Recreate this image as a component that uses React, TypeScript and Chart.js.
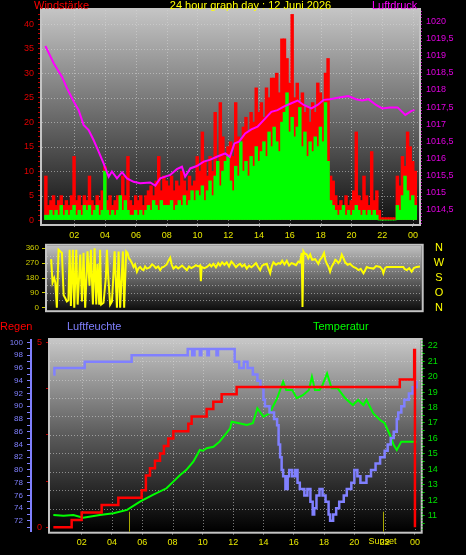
import React, { useEffect, useRef } from "react";
import { Chart, registerables } from "chart.js";

Chart.register(...registerables);

const FONT = '"Liberation Sans", Arial, Helvetica, sans-serif';
const GRID = "rgba(215,215,215,0.55)";
const FRAME = "#c4c4c4";

// ---------- shared time axis ----------
const hourTicks = [2, 4, 6, 8, 10, 12, 14, 16, 18, 20, 22, 24];
const hourLabels = ["02", "04", "06", "08", "10", "12", "14", "16", "18", "20", "22", "00"];

// ---------- panel 1: wind (10-minute slots) and pressure ----------
const windSlotStart = 0.15;
const windSlotHours = 1 / 6;
const windGust = [
  9, 3, 4, 5, 3, 4, 5, 3, 4, 3, 5, 13,
  4, 5, 3, 5, 4, 9, 4, 3, 5, 4, 6, 11,
  4, 5, 3, 4, 5, 5, 9, 5, 13, 4, 3, 5,
  4, 5, 3, 5, 6, 7, 5, 8, 13, 6, 9, 8,
  7, 9, 6, 8, 7, 10, 8, 6, 9, 7, 8, 13,
  10, 18, 12, 9, 13, 10, 22, 12, 24, 17, 13, 15,
  16, 13, 24, 17, 14, 19, 21, 18, 22, 20, 27, 22,
  24, 21, 27, 25, 29, 29, 30, 26, 37, 37, 33, 28,
  42, 25, 28, 24, 26, 22, 23, 20, 24, 22, 28, 26,
  24, 30, 33, 9, 8, 5, 3, 4, 2, 5, 3, 4,
  6, 18, 5, 4, 9, 5, 3, 14, 4, 6, 2, 0.5,
  0.5, 0.5, 0.5, 0.5, 0.5, 9, 7, 13, 11, 18, 15, 12, 10,
];
const windSpeed = [
  1, 1, 2, 1, 2, 1, 3, 1, 2, 1, 2, 3,
  1, 2, 1, 3, 2, 3, 1, 2, 3, 1, 2, 10,
  2, 1, 2, 1, 2, 5, 2, 4, 2, 1, 1, 2,
  1, 2, 1, 2, 3, 2, 4, 3, 2, 4, 3, 3,
  3, 4, 2, 3, 4, 3, 5, 3, 4, 6, 4, 6,
  5, 7, 4, 6, 8, 5, 9, 12, 7, 10, 12, 13,
  8, 6, 11, 9, 16, 10, 12, 9, 13, 11, 15, 12,
  14, 16, 13, 18, 15, 19, 16, 14, 20, 22, 26, 18,
  21, 17, 19, 23, 15, 18, 13, 16, 14, 17, 15, 19,
  16, 24, 12, 4, 3, 2, 1, 2, 3, 1, 2, 1,
  2, 3, 2, 1, 2, 1, 2, 1, 2, 1, 0, 0,
  0, 0, 0, 0, 0, 3, 2, 5, 9, 6, 4, 5, 3,
];
const pressureHours = [
  0.12, 0.66, 1.2, 1.52, 1.96, 2.28, 2.6, 2.93, 3.25, 3.58, 3.9, 4.23, 4.44, 4.77, 5.1,
  5.42, 5.85, 6.28, 6.93, 7.26, 7.58, 8.23, 8.66, 8.99, 9.2, 9.53, 9.96, 10.4, 10.8, 11.26,
  11.8, 12.1, 12.4, 12.7, 13.1, 13.5, 13.9, 14.3, 14.8, 15.2, 15.6, 16.1, 16.5, 16.9, 17.4,
  17.8, 18.2, 18.6, 19.2, 19.8, 20.3, 20.7, 21.1, 21.6, 22.0, 22.5, 23.0, 23.5, 23.9, 24.1,
];
const pressureValues = [
  1019.28, 1018.78, 1018.38, 1018.05, 1017.66, 1017.41, 1016.98, 1016.83, 1016.54, 1016.2,
  1015.86, 1015.47, 1015.62, 1015.42, 1015.6, 1015.42, 1015.32, 1015.28, 1015.3, 1015.21,
  1015.42, 1015.52, 1015.69, 1015.76, 1015.47, 1015.71, 1015.78, 1015.91, 1015.96, 1016.05,
  1016.15, 1016.05, 1016.44, 1016.49, 1016.73, 1016.85, 1016.93, 1017.12, 1017.36, 1017.41,
  1017.51, 1017.61, 1017.69, 1017.56, 1017.46, 1017.56, 1017.71, 1017.73, 1017.78, 1017.82,
  1017.73, 1017.69, 1017.73, 1017.56, 1017.46, 1017.49, 1017.49, 1017.27, 1017.39, 1017.41,
];

// ---------- panel 2: wind direction ----------
const dirHours = [
  0.5, 0.59, 0.7, 0.77, 0.87, 0.98, 1.1, 1.2, 1.31, 1.42, 1.52, 1.62, 1.7, 1.78, 1.91, 2.0,
  2.13, 2.22, 2.39, 2.5, 2.6, 2.71, 2.86, 2.99, 3.08, 3.21, 3.32, 3.43, 3.51, 3.62, 3.68, 3.75,
  3.9, 4.05, 4.12, 4.2, 4.33, 4.45, 4.62, 4.77, 4.88, 4.98, 5.16, 5.24, 5.37, 5.46, 5.55, 5.63,
  5.75, 5.85, 5.95, 6.07, 6.18, 6.28, 6.4, 6.5, 6.6, 6.71, 6.9, 7.05, 7.15, 7.3, 7.45, 7.58,
  7.7, 7.8, 8.0, 8.12, 8.23, 8.33, 8.44, 8.6, 8.75, 8.88, 9.0, 9.15, 9.31, 9.45, 9.6, 9.74,
  9.9, 10.05, 10.17, 10.22, 10.27, 10.45, 10.61, 10.8, 10.9, 11.04, 11.2, 11.35, 11.47, 11.6,
  11.75, 11.9, 12.05, 12.2, 12.34, 12.5, 12.65, 12.77, 12.9, 13.05, 13.2, 13.35, 13.5, 13.64,
  13.8, 13.95, 14.07, 14.2, 14.35, 14.5, 14.6, 14.72, 14.82, 14.93, 15.1, 15.25, 15.37, 15.5,
  15.65, 15.8, 15.95, 16.1, 16.23, 16.4, 16.55, 16.66, 16.77, 16.82, 16.88, 16.95, 17.1, 17.2,
  17.32, 17.45, 17.64, 17.75, 17.85, 17.95, 18.07, 18.22, 18.3, 18.4, 18.5, 18.61, 18.72, 18.83,
  18.95, 19.04, 19.15, 19.26, 19.37, 19.48, 19.59, 19.75, 19.91, 20.02, 20.13, 20.3, 20.45,
  20.6, 20.78, 20.9, 20.99, 21.2, 21.43, 21.6, 21.86, 22.0, 22.07, 22.18, 22.29, 23.37, 23.45,
  23.59, 23.75, 23.91, 24.05, 24.23, 24.45,
];
const dirValues = [
  294, 152, 180, 152, 0, 351, 341, 332, 76, 57, 38, 45, 351, 10, 351, 0,
  351, 19, 322, 38, 332, 0, 341, 133, 351, 19, 360, 19, 266, 19, 351, 19,
  30, 180, 351, 200, 19, 38, 341, 0, 341, 0, 341, 0, 341, 332, 300, 290,
  270, 247, 262, 218, 240, 247, 232, 228, 250, 237, 244, 262, 256, 240, 250, 228,
  245, 247, 262, 285, 303, 260, 237, 250, 238, 247, 255, 242, 228, 250, 240, 247,
  258, 250, 256, 161, 247, 240, 247, 262, 250, 266, 245, 270, 256, 275,
  260, 275, 250, 280, 266, 245, 260, 266, 250, 262, 237, 255, 245, 256,
  270, 245, 228, 255, 262, 266, 240, 209, 250, 275, 260, 270, 266, 285,
  262, 284, 255, 270, 266, 258, 280, 275, 332, 4, 341, 330, 322, 300,
  322, 290, 294, 280, 266, 290, 303, 332, 290, 266, 250, 218, 250, 266,
  290, 284, 270, 284, 322, 300, 275, 260, 266, 255, 247, 240, 228,
  235, 209, 230, 247, 240, 237, 252, 247, 230, 209, 240, 247, 247, 235,
  228, 240, 218, 240, 247, 250,
];
const dirTicks = [0, 90, 180, 270, 360];
const dirLetters = ["N", "O", "S", "W", "N"];
const dirGrid = [45, 90, 135, 180, 225, 270, 315];

// ---------- panel 3: humidity, temperature, rain ----------
const humHours = [
  0.13, 0.2, 2.2, 5.3, 9.0, 9.3, 9.45, 9.8, 9.9, 10.3, 10.4, 10.9, 11.0, 12.1, 12.4, 12.7,
  12.95, 13.3, 13.6, 13.8, 14.0, 14.1, 14.4, 14.7, 14.9, 15.0, 15.1, 15.2, 15.3, 15.45, 15.6,
  15.7, 15.9, 16.1, 16.25, 16.4, 16.7, 16.9, 17.1, 17.25, 17.35, 17.5, 17.7, 17.9, 18.1, 18.3,
  18.4, 18.6, 18.8, 19.0, 19.3, 19.5, 19.8, 20.0, 20.2, 20.4, 20.8, 21.1, 21.4, 21.7, 22.0,
  22.2, 22.4, 22.6, 22.8, 22.9, 23.1, 23.3, 23.6, 23.85, 24.1,
];
const humValues = [
  95, 96, 97, 98, 99, 98, 99, 98, 99, 98, 99, 98, 99, 97, 96, 97,
  96, 95, 94, 93, 91, 90, 89, 88, 87, 84, 82, 80, 79, 77, 79,
  80, 79, 80, 78, 77, 76, 77, 75, 73, 74, 76, 77, 76, 75, 73,
  72, 73, 74, 75, 76, 77, 78, 80, 79, 78, 79, 80, 81, 82, 83,
  84, 85, 86, 88, 89, 90, 91, 92, 93, 94,
];
const tempHours = [
  0.13, 0.8, 1.45, 2.1, 2.6, 3.2, 4.1, 5.0, 5.85, 6.7, 7.6, 8.05, 8.5, 8.9, 9.37, 9.8, 10.0,
  10.25, 10.7, 11.1, 11.46, 11.8, 11.9, 12.4, 12.9, 13.3, 13.6, 14.0, 14.4, 14.9, 15.3, 15.5,
  15.9, 16.2, 16.6, 17.0, 17.2, 17.4, 17.7, 17.9, 18.2, 18.5, 18.9, 19.4, 19.9, 20.25, 20.6,
  20.8, 21.25, 21.7, 22.0, 22.35, 22.6, 22.8, 23.1, 23.45, 24.1,
];
const tempValues = [
  11.04, 11.0, 11.04, 10.87, 10.95, 11.04, 11.15, 11.37, 11.9, 12.34, 12.77, 13.2, 13.63,
  13.95, 14.49, 15.25, 15.2, 15.36, 15.46, 15.79, 16.22, 16.65, 17.08, 16.98, 16.87, 16.98,
  17.95, 17.4, 17.62, 18.6, 19.67, 19.13, 19.13, 18.6, 18.8, 19.13, 19.99, 19.13, 19.13,
  19.46, 20.2, 19.24, 19.24, 18.6, 18.16, 18.49, 18.16, 18.49, 17.62, 17.19, 16.98, 16.22,
  15.57, 15.25, 15.79, 15.79, 15.79,
];
const rainHours = [
  0.13, 1.34, 2.0, 3.32, 4.42, 5.96, 6.24, 6.51, 6.84, 7.17, 7.43, 7.72, 8.05, 9.04, 9.26,
  10.25, 10.69, 11.24, 12.23, 23.0, 23.95, 24.0,
];
const rainValues = [
  0, 0.2, 0.4, 0.6, 0.8, 1.0, 1.4, 1.6, 1.8, 2.0, 2.2, 2.4, 2.6, 2.8, 3.0,
  3.2, 3.4, 3.6, 3.8, 4.0, 4.8, 0,
];
const rainTicks = [0, 1.25, 2.5, 3.75, 5];
const rainGrid = [0.5, 1, 1.5, 2, 2.5, 3, 3.5, 4, 4.5, 5];
const sunHours = [5.12, 21.91];
const sunLabels = ["", "Sunset"];

// ---------- helpers ----------
function range(a: number, b: number, step: number): number[] {
  const out: number[] = [];
  for (let k = 0; a + k * step <= b + 1e-9; k++) out.push(Math.round((a + k * step) * 1000) / 1000);
  return out;
}
const pts = (xs: number[], ys: number[]) => xs.map((x, i) => ({ x, y: ys[i] }));
const font = (size: number) => ({ family: FONT, size });

function makeDecor(
  id: string,
  stops: [number, string][],
  hAxis: string | null,
  hValues: number[],
  vAxis: string | null,
  vValues: number[],
  extra?: (chart: any) => void
) {
  return {
    id,
    beforeDraw(chart: any) {
      const { ctx, chartArea: a } = chart;
      ctx.save();
      const g = ctx.createLinearGradient(0, a.top, 0, a.bottom);
      stops.forEach(([o, c]) => g.addColorStop(o, c));
      ctx.fillStyle = g;
      ctx.fillRect(a.left, a.top, a.right - a.left, a.bottom - a.top);
      ctx.strokeStyle = GRID;
      ctx.lineWidth = 1;
      ctx.setLineDash([1, 2]);
      if (hAxis) {
        const s = chart.scales[hAxis];
        hValues.forEach((v) => {
          const y = Math.round(s.getPixelForValue(v)) + 0.5;
          ctx.beginPath();
          ctx.moveTo(a.left, y);
          ctx.lineTo(a.right, y);
          ctx.stroke();
        });
      }
      if (vAxis) {
        const s = chart.scales[vAxis];
        vValues.forEach((v) => {
          const x = Math.round(s.getPixelForValue(v)) + 0.5;
          ctx.beginPath();
          ctx.moveTo(x, a.top);
          ctx.lineTo(x, a.bottom);
          ctx.stroke();
        });
      }
      ctx.restore();
    },
    afterDatasetsDraw(chart: any) {
      const { ctx, chartArea: a } = chart;
      ctx.save();
      ctx.strokeStyle = FRAME;
      ctx.lineWidth = 2;
      ctx.strokeRect(a.left - 1, a.top - 1, a.right - a.left + 2, a.bottom - a.top + 2);
      ctx.restore();
      if (extra) extra(chart);
    },
  };
}

function timeAxis(min: number, max: number, height: number, padding: number) {
  return {
    type: "linear",
    position: "bottom",
    min,
    max,
    offset: false,
    afterBuildTicks: (s: any) => {
      s.ticks = hourTicks.map((v) => ({ value: v }));
    },
    afterFit: (s: any) => {
      s.height = height;
    },
    ticks: {
      autoSkip: false,
      maxRotation: 0,
      padding,
      color: "#e8e800",
      font: font(9),
      callback: (_v: any, i: number) => hourLabels[i],
    },
    grid: { offset: false, drawOnChartArea: false, drawTicks: true, tickLength: 3, tickColor: "#8a8a8a" },
    border: { display: false },
  };
}

const baseOptions = {
  responsive: false,
  animation: false,
  devicePixelRatio: 1,
  events: [],
  plugins: { legend: { display: false }, tooltip: { enabled: false } },
};

// ---------- charts ----------
function buildWindChart(canvas: HTMLCanvasElement) {
  const gust = windGust.map((v, i) => ({ x: windSlotStart + i * windSlotHours, y: v }));
  const speed = windSpeed.map((v, i) => ({ x: windSlotStart + i * windSlotHours, y: v }));
  return new Chart(canvas, {
    type: "bar",
    data: {
      datasets: [
        {
          type: "line",
          label: "Luftdruck",
          data: pts(pressureHours, pressureValues),
          yAxisID: "pres",
          borderColor: "#ff00ff",
          borderWidth: 2,
          pointRadius: 0,
          tension: 0,
          order: 0,
        },
        {
          type: "bar",
          label: "Wind",
          data: speed,
          yAxisID: "wind",
          backgroundColor: "#00ff00",
          barThickness: 2.8,
          grouped: false,
          order: 1,
        },
        {
          type: "bar",
          label: "Böen",
          data: gust,
          yAxisID: "wind",
          backgroundColor: "#ff0000",
          barThickness: 2.8,
          grouped: false,
          order: 2,
        },
      ],
    },
    options: {
      ...baseOptions,
      layout: { padding: { top: 10, right: 0, bottom: 0, left: 0 } },
      scales: {
        x: timeAxis(-0.1, 24.39, 24, 3),
        wind: {
          type: "linear",
          position: "left",
          min: -0.8,
          max: 42.9,
          afterBuildTicks: (s: any) => {
            s.ticks = range(0, 42, 1).map((v) => ({ value: v }));
          },
          afterFit: (s: any) => {
            s.width = 42;
          },
          ticks: {
            autoSkip: false,
            padding: 4,
            color: "#e00000",
            font: font(9),
            callback: (v: number) => (v % 5 === 0 ? String(v) : ""),
          },
          grid: { drawOnChartArea: false, tickLength: 4, tickColor: "#c00000" },
          border: { display: false },
        },
        pres: {
          type: "linear",
          position: "right",
          min: 1014.09,
          max: 1020.33,
          afterBuildTicks: (s: any) => {
            s.ticks = range(1014.1, 1020.3, 0.1).map((v) => ({ value: v }));
          },
          afterFit: (s: any) => {
            s.width = 47;
          },
          ticks: {
            autoSkip: false,
            padding: 4,
            color: "#e000e0",
            font: font(9),
            callback: (v: number) => {
              const r = Math.round(v * 10) / 10;
              if (Math.abs(r * 2 - Math.round(r * 2)) > 1e-6) return "";
              return Number.isInteger(r) ? String(r) : r.toFixed(1).replace(".", ",");
            },
          },
          grid: { drawOnChartArea: false, tickLength: 3, tickColor: "#c000c0" },
          border: { display: false },
        },
      },
    },
    plugins: [
      makeDecor(
        "windDecor",
        [
          [0, "#c4c4c4"],
          [1, "#101010"],
        ],
        "wind",
        [5, 10, 15, 20, 25, 30, 35, 40],
        "x",
        hourTicks
      ),
    ],
  } as any);
}

function buildDirChart(canvas: HTMLCanvasElement) {
  return new Chart(canvas, {
    type: "line",
    data: {
      datasets: [
        {
          label: "Windrichtung",
          data: pts(dirHours, dirValues),
          borderColor: "#ffff00",
          borderWidth: 2,
          pointRadius: 0,
          tension: 0,
        },
      ],
    },
    options: {
      ...baseOptions,
      layout: { padding: { top: 6, right: 44.3, bottom: 5.3, left: 0 } },
      scales: {
        x: { type: "linear", min: 0.23, max: 24.56, display: false },
        y: {
          type: "linear",
          position: "left",
          min: -15,
          max: 375,
          afterBuildTicks: (s: any) => {
            s.ticks = dirTicks.map((v) => ({ value: v }));
          },
          afterFit: (s: any) => {
            s.width = 47;
          },
          ticks: { autoSkip: false, padding: 3, color: "#d0d000", font: font(8) },
          grid: { drawOnChartArea: false, tickLength: 5, tickColor: "#d0d000" },
          border: { display: false },
        },
      },
    },
    plugins: [
      makeDecor(
        "dirDecor",
        [
          [0, "#c0c0c0"],
          [1, "#0c0c0c"],
        ],
        "y",
        dirGrid,
        null,
        [],
        (chart: any) => {
          const { ctx } = chart;
          const ys = chart.scales.y;
          ctx.save();
          ctx.fillStyle = "#ffff00";
          ctx.font = `11px ${FONT}`;
          ctx.textAlign = "center";
          ctx.textBaseline = "middle";
          dirTicks.forEach((v, i) => ctx.fillText(dirLetters[i], 439, ys.getPixelForValue(v)));
          ctx.restore();
        }
      ),
    ],
  } as any);
}

function buildClimateChart(canvas: HTMLCanvasElement) {
  return new Chart(canvas, {
    type: "line",
    data: {
      datasets: [
        {
          label: "Regen",
          data: pts(rainHours, rainValues),
          yAxisID: "rain",
          borderColor: "#ff0000",
          borderWidth: 2.5,
          pointRadius: 0,
          stepped: true,
          order: 0,
        },
        {
          label: "Luftfeuchte",
          data: pts(humHours, humValues),
          yAxisID: "hum",
          borderColor: "#8080ff",
          borderWidth: 2.5,
          pointRadius: 0,
          stepped: true,
          order: 1,
        },
        {
          label: "Temperatur",
          data: pts(tempHours, tempValues),
          yAxisID: "temp",
          borderColor: "#00ff00",
          borderWidth: 2,
          pointRadius: 0,
          tension: 0,
          order: 2,
        },
      ],
    },
    options: {
      ...baseOptions,
      layout: { padding: { top: 20, right: 0, bottom: 0, left: 0 } },
      scales: {
        x: timeAxis(-0.09, 24.38, 23.3, 2),
        hum: {
          type: "linear",
          position: "left",
          weight: 1,
          min: 70.3,
          max: 100.4,
          afterBuildTicks: (s: any) => {
            s.ticks = range(71, 100, 1).map((v) => ({ value: v }));
          },
          afterFit: (s: any) => {
            s.width = 31;
          },
          ticks: {
            autoSkip: false,
            padding: 4,
            color: "#8080ff",
            font: font(8),
            callback: (v: number) => (v % 2 === 0 ? String(v) : ""),
          },
          grid: { drawOnChartArea: false, tickLength: 4, tickColor: "#8080ff" },
          border: { display: true, color: "#8080ff", width: 2 },
        },
        rain: {
          type: "linear",
          position: "left",
          weight: 0,
          min: -0.12,
          max: 5.07,
          afterBuildTicks: (s: any) => {
            s.ticks = rainTicks.map((v) => ({ value: v }));
          },
          afterFit: (s: any) => {
            s.width = 19;
          },
          ticks: {
            autoSkip: false,
            padding: 4,
            color: "#e00000",
            font: font(9),
            callback: (v: number) => (v === 0 || v === 5 ? String(v) : ""),
          },
          grid: { drawOnChartArea: false, tickLength: 4, tickColor: "#c00000" },
          border: { display: false },
        },
        temp: {
          type: "linear",
          position: "right",
          min: 9.96,
          max: 22.37,
          afterBuildTicks: (s: any) => {
            s.ticks = range(10.5, 22, 0.5).map((v) => ({ value: v }));
          },
          afterFit: (s: any) => {
            s.width = 45.3;
          },
          ticks: {
            autoSkip: false,
            padding: 3,
            color: "#00e000",
            font: font(9),
            callback: (v: number) => (Number.isInteger(v) ? String(v) : ""),
          },
          grid: { drawOnChartArea: false, tickLength: 4, tickColor: "#00c000" },
          border: { display: false },
        },
      },
    },
    plugins: [
      makeDecor(
        "climateDecor",
        [
          [0, "#c6c6c6"],
          [0.5, "#5a5a5a"],
          [1, "#000000"],
        ],
        "rain",
        rainGrid,
        "x",
        hourTicks,
        (chart: any) => {
          const { ctx, chartArea: a } = chart;
          const xs = chart.scales.x;
          ctx.save();
          ctx.strokeStyle = "#00c000";
          ctx.lineWidth = 1;
          ctx.setLineDash([1, 2]);
          ctx.beginPath();
          ctx.moveTo(a.right + 1.5, a.top);
          ctx.lineTo(a.right + 1.5, a.bottom);
          ctx.stroke();
          ctx.setLineDash([]);
          ctx.strokeStyle = "#a8a800";
          ctx.fillStyle = "#e8e800";
          ctx.font = `9px ${FONT}`;
          ctx.textAlign = "center";
          ctx.textBaseline = "middle";
          sunHours.forEach((h, i) => {
            const x = Math.round(xs.getPixelForValue(h)) + 0.5;
            ctx.beginPath();
            ctx.moveTo(x, a.bottom - 20);
            ctx.lineTo(x, a.bottom);
            ctx.stroke();
            if (sunLabels[i]) ctx.fillText(sunLabels[i], x - 1, a.bottom + 10.3);
          });
          ctx.restore();
        }
      ),
    ],
  } as any);
}

// ---------- components ----------
function ChartCanvas({ top, height, build }: { top: number; height: number; build: (c: HTMLCanvasElement) => Chart }) {
  const ref = useRef<HTMLCanvasElement>(null);
  useEffect(() => {
    const chart = build(ref.current as HTMLCanvasElement);
    return () => chart.destroy();
  }, []);
  return (
    <canvas
      ref={ref}
      width={466}
      height={height}
      style={{ position: "absolute", left: 0, top, width: 466, height, display: "block" }}
    />
  );
}

function Label({ text, left, top, color, center }: { text: string; left: number; top: number; color: string; center?: boolean }) {
  return (
    <div
      style={{
        position: "absolute",
        left,
        top,
        color,
        font: `11px ${FONT}`,
        lineHeight: "12px",
        whiteSpace: "nowrap",
        transform: center ? "translateX(-50%)" : undefined,
      }}
    >
      {text}
    </div>
  );
}

export default function App() {
  return (
    <div
      style={{
        position: "fixed",
        left: 0,
        top: 0,
        width: 466,
        height: 555,
        background: "#000",
        overflow: "hidden",
      }}
    >
      <ChartCanvas top={0} height={248} build={buildWindChart} />
      <ChartCanvas top={238} height={80} build={buildDirChart} />
      <ChartCanvas top={320} height={235} build={buildClimateChart} />
      <Label text="Windstärke" left={34} top={-1} color="#ff0000" />
      <Label text="24 hour graph day : 12 Juni 2026" left={250.5} top={-1} color="#ffff00" center />
      <Label text="Luftdruck" left={372} top={-1} color="#ff00ff" />
      <Label text="Regen" left={0} top={320} color="#ff0000" />
      <Label text="Luftfeuchte" left={67} top={320} color="#8080ff" />
      <Label text="Temperatur" left={313} top={320} color="#00ff00" />
    </div>
  );
}
